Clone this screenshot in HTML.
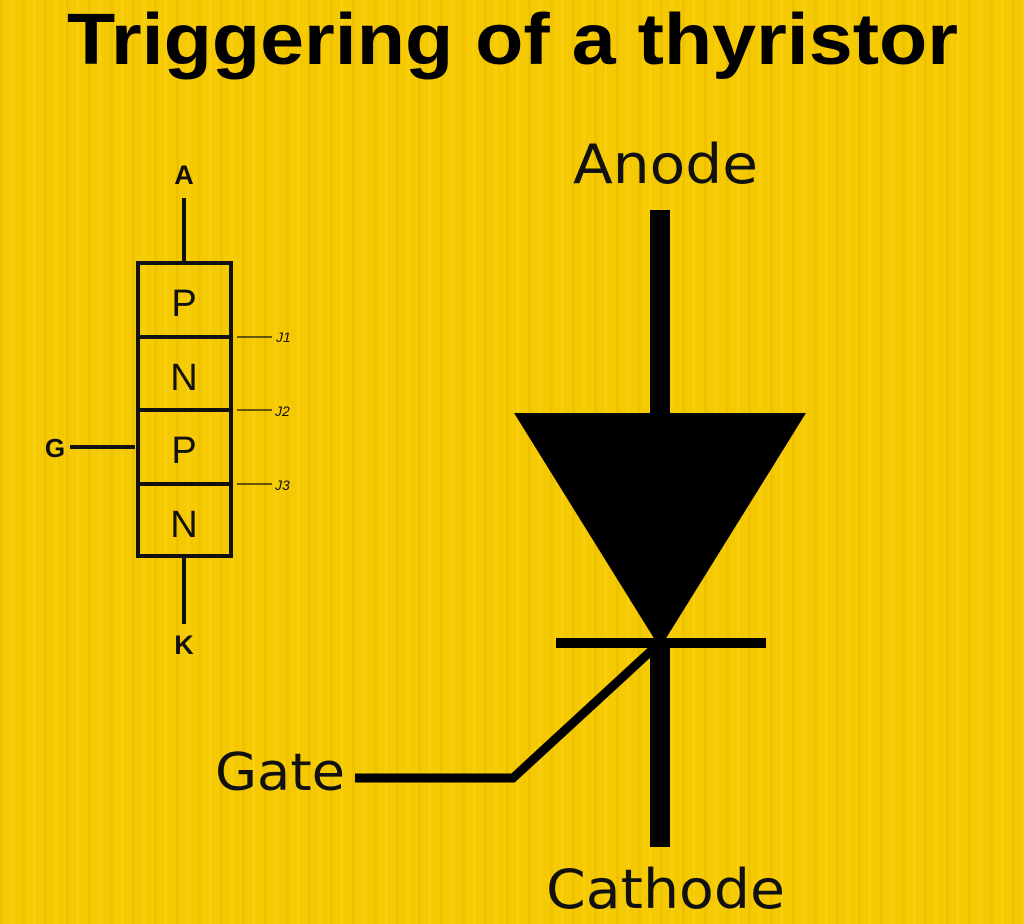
<!DOCTYPE html>
<html><head><meta charset="utf-8"><style>
html,body{margin:0;padding:0;}
body{width:1024px;height:924px;overflow:hidden;background:#f5c800;}
svg{display:block;}
.ls{font-family:"Liberation Sans",Arial,sans-serif;}
.dj{font-family:"DejaVu Sans",sans-serif;}
</style></head><body>
<svg width="1024" height="924" viewBox="0 0 1024 924" xmlns="http://www.w3.org/2000/svg">
<defs>
<pattern id="st" width="22" height="924" patternUnits="userSpaceOnUse">
<rect width="22" height="924" fill="#f6ca02"/>
<rect x="0" width="3" height="924" fill="#e9bb00" opacity="0.6"/>
<rect x="11" width="2" height="924" fill="#fbd21a" opacity="0.6"/>
</pattern>
</defs>
<rect width="1024" height="924" fill="url(#st)"/>
<text class="ls" x="67" y="64" font-weight="bold" font-size="72" textLength="891" lengthAdjust="spacingAndGlyphs" fill="#000">Triggering of a thyristor</text>

<g stroke="#111" stroke-width="4" fill="none">
<rect x="138" y="263" width="93" height="293"/>
<line x1="138" y1="337" x2="231" y2="337"/>
<line x1="138" y1="410" x2="231" y2="410"/>
<line x1="138" y1="484" x2="231" y2="484"/>
<line x1="184" y1="198" x2="184" y2="263"/>
<line x1="184" y1="556" x2="184" y2="624"/>
<line x1="70" y1="447" x2="135" y2="447"/>
</g>
<g stroke="#111" stroke-width="1.2">
<line x1="237" y1="337" x2="272" y2="337"/>
<line x1="237" y1="410" x2="272" y2="410"/>
<line x1="237" y1="484" x2="272" y2="484"/>
</g>
<g class="ls" fill="#111" text-anchor="middle">
<text x="184" y="184" font-size="27" font-weight="bold">A</text>
<text x="184" y="654" font-size="27" font-weight="bold">K</text>
<text x="55" y="457" font-size="26" font-weight="bold">G</text>
<text x="184" y="316" font-size="38">P</text>
<text x="184" y="390" font-size="38">N</text>
<text x="184" y="463" font-size="38">P</text>
<text x="184" y="537" font-size="38">N</text>
</g>
<g class="ls" font-style="italic" fill="#111" font-size="14">
<text x="276" y="342">J1</text>
<text x="275" y="416">J2</text>
<text x="275" y="490">J3</text>
</g>

<rect x="650" y="210" width="20" height="210" fill="#000"/>
<polygon points="514,413 806,413 660,648" fill="#000"/>
<rect x="556" y="638" width="210" height="10" fill="#000"/>
<rect x="650" y="645" width="20" height="202" fill="#000"/>
<polyline points="652,650 513,778 355,778" fill="none" stroke="#000" stroke-width="9"/>
<g class="dj" fill="#111">
<text x="573" y="183" font-size="54" textLength="185" lengthAdjust="spacingAndGlyphs">Anode</text>
<text x="215" y="790" font-size="52" textLength="130" lengthAdjust="spacingAndGlyphs">Gate</text>
<text x="546" y="908" font-size="54" textLength="239" lengthAdjust="spacingAndGlyphs">Cathode</text>
</g>
</svg>
</body></html>
